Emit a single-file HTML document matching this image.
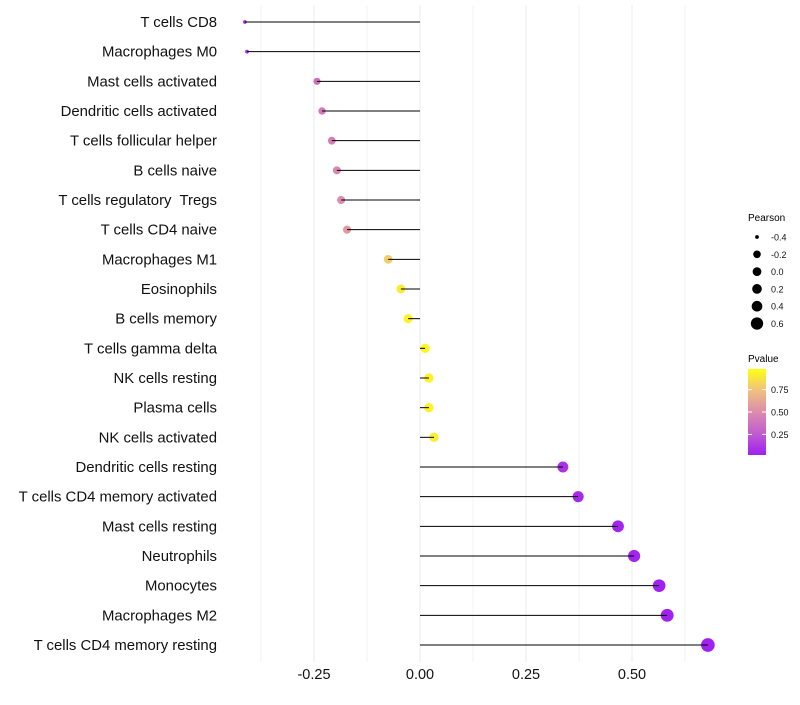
<!DOCTYPE html>
<html><head><meta charset="utf-8"><style>
body{margin:0;background:#fff;}
text{font-family:"Liberation Sans",sans-serif;white-space:pre;}
</style></head><body>
<svg id="chart" width="800" height="700" xmlns="http://www.w3.org/2000/svg">
<g id="grid"></g>
<g id="marks"></g>
<g id="ylab"></g>
<g id="xlab"></g>
<g>
<text x="748" y="221" font-size="10">Pearson</text>
<g id="sizeleg"></g>
</g>
<g>
<text x="748" y="362" font-size="10">Pvalue</text>
<defs><linearGradient id="cg" x1="0" y1="1" x2="0" y2="0">
<stop offset="0" stop-color="#A020F0"/><stop offset="0.25" stop-color="#C05CD0"/>
<stop offset="0.5" stop-color="#DC8CAC"/><stop offset="0.75" stop-color="#F0C080"/><stop offset="1" stop-color="#FFFF10"/>
</linearGradient></defs>
<rect x="748" y="369" width="18" height="86" fill="url(#cg)"/>
<g id="cbticks"></g>
</g>
</svg>
<script>
const categories=["T cells CD8","Macrophages M0","Mast cells activated","Dendritic cells activated","T cells follicular helper","B cells naive","T cells regulatory  Tregs","T cells CD4 naive","Macrophages M1","Eosinophils","B cells memory","T cells gamma delta","NK cells resting","Plasma cells","NK cells activated","Dendritic cells resting","T cells CD4 memory activated","Mast cells resting","Neutrophils","Monocytes","Macrophages M2","T cells CD4 memory resting"];
const pearson=[-0.413,-0.408,-0.243,-0.231,-0.208,-0.196,-0.186,-0.172,-0.075,-0.045,-0.028,0.012,0.021,0.021,0.033,0.337,0.373,0.467,0.505,0.564,0.583,0.679];
const pvalue=[0.04,0.05,0.35,0.4,0.44,0.47,0.5,0.56,0.8,0.92,0.95,0.97,0.95,0.95,0.93,0.08,0.04,0.02,0.015,0.01,0.01,0.005];
const xTicks=[-0.25,0,0.25,0.5];
const xTickLabels=["-0.25","0.00","0.25","0.50"];
const sizeLegend=[-0.4,-0.2,0,0.2,0.4,0.6];
const cbTicks=[0.25,0.5,0.75];
const NS="http://www.w3.org/2000/svg";
const x=v=>420+v*424;
const y=i=>22+i*(623/21);
const rk=[[-0.45,1.4],[-0.4,2],[-0.2,4],[0,4.6],[0.2,5.1],[0.4,5.6],[0.6,6.5],[0.8,7.3]];
function r(v){for(let k=1;k<rk.length;k++){if(v<=rk[k][0]||k==rk.length-1){const a=rk[k-1],b=rk[k],t=(v-a[0])/(b[0]-a[0]);return Math.max(1,a[1]+(b[1]-a[1])*t);}}}
const stops=[[0,[160,32,240]],[0.25,[192,92,208]],[0.5,[220,140,172]],[0.75,[240,192,128]],[1,[255,255,16]]];
function col(p){for(let k=1;k<stops.length;k++){if(p<=stops[k][0]){const a=stops[k-1],b=stops[k],t=(p-a[0])/(b[0]-a[0]);return 'rgb('+a[1].map((c,j)=>Math.round(c+(b[1][j]-c)*t)).join(',')+')';}}return 'rgb(255,255,16)';}
function mk(tag,attrs,parent){const e=document.createElementNS(NS,tag);for(const k in attrs)e.setAttribute(k,attrs[k]);document.getElementById(parent).appendChild(e);return e;}
const grid=[-0.375,-0.25,-0.125,0,0.125,0.25,0.375,0.5,0.625];
grid.forEach(g=>{const l=mk('line',{x1:x(g),x2:x(g),y1:5,y2:662,stroke:Number.isInteger(g*4)?'#ebebeb':'#f3f3f3','stroke-width':1},'grid');

});
categories.forEach((c,i)=>{
const cy=y(i);
const pt=mk('circle',{cx:x(pearson[i]),cy:cy,r:r(pearson[i]),fill:col(pvalue[i])},'marks');


const ln=mk('line',{x1:x(0),x2:x(pearson[i]),y1:cy,y2:cy,stroke:'#000','stroke-width':1},'marks');


const t=mk('text',{x:217,y:cy+5,'text-anchor':'end','font-size':14.9,fill:'#111'},'ylab');t.textContent=c;


});
xTicks.forEach((v,i)=>{const t=mk('text',{x:x(v),y:679,'text-anchor':'middle','font-size':14.5,fill:'#111'},'xlab');t.textContent=xTickLabels[i];

});
sizeLegend.forEach((v,i)=>{const cy=237+i*17.3;
const c=mk('circle',{cx:757,cy:cy,r:r(v)*0.95,fill:'#000'},'sizeleg');


const t=mk('text',{x:771,y:cy+3.5,'font-size':9,fill:'#111'},'sizeleg');t.textContent=v.toFixed(1);

});
cbTicks.forEach(v=>{const cy=455-(v-0.02)/0.96*86;
const t=mk('text',{x:771,y:cy+3.5,'font-size':9,fill:'#111'},'cbticks');t.textContent=v.toFixed(2);


mk('line',{x1:748,x2:752,y1:cy,y2:cy,stroke:'#fff'},'cbticks');mk('line',{x1:762,x2:766,y1:cy,y2:cy,stroke:'#fff'},'cbticks');});
</script>
</body></html>
